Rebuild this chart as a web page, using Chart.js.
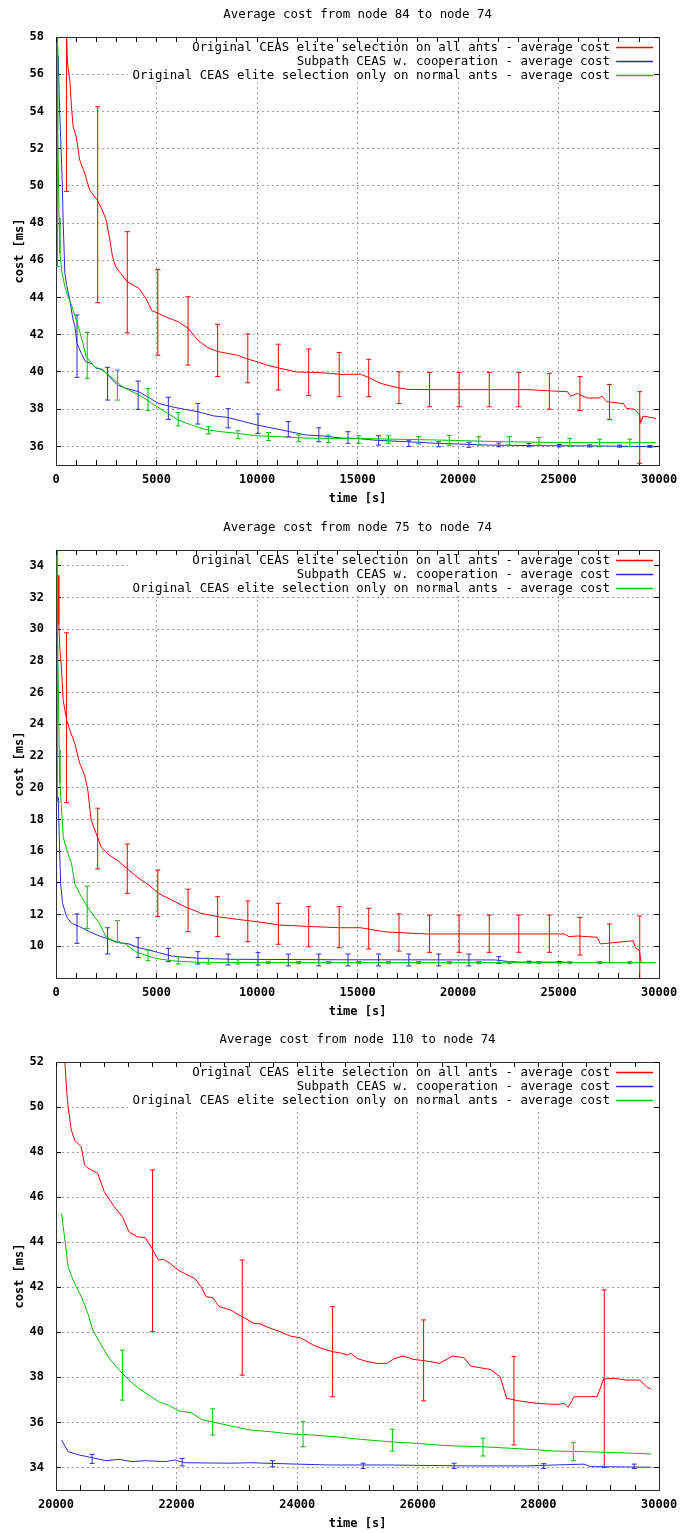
<!DOCTYPE html>
<html>
<head>
<meta charset="utf-8">
<title>Average cost</title>
<script src="https://cdn.jsdelivr.net/npm/chart.js@4.4.1/dist/chart.umd.min.js"></script>
<style>
  html, body { margin: 0; padding: 0; background: #fff; }
  canvas { display: block; }
</style>
</head>
<body>
<canvas id="node84" width="690" height="513"></canvas>
<canvas id="node75" width="690" height="512"></canvas>
<canvas id="node110" width="690" height="508"></canvas>
<script>
const seriesLabels = [
  'Original CEAS elite selection on all ants - average cost',
  'Subpath CEAS w. cooperation - average cost',
  'Original CEAS elite selection only on normal ants - average cost'
];

// node 84 -> 74   [time, cost]
const red84 = [[480, 60.5], [525, 58.2], [573, 56.6], [686, 55.7], [770, 54.25], [848, 53.2], [1015, 52.6], [1176, 51.4], [1422, 50.7], [1667, 49.8], [2074, 49.2], [2300, 48.7], [2484, 48.2], [2647, 47.3], [2810, 46.2], [2974, 45.65], [3137, 45.4], [3546, 44.85], [4118, 44.5], [4444, 44.0], [4771, 43.3], [5098, 43.15], [5588, 42.9], [6078, 42.7], [6569, 42.35], [7059, 41.7], [7549, 41.3], [8039, 41.1], [8529, 41.0], [9020, 40.9], [9510, 40.7], [10000, 40.55], [10490, 40.37], [11140, 40.2], [11960, 40.0], [12780, 39.98], [13590, 39.93], [14167, 39.87], [15147, 39.88], [15637, 39.66], [16127, 39.39], [16946, 39.17], [17516, 39.06], [19000, 39.05], [23480, 39.05], [24460, 38.99], [25440, 38.94], [25600, 38.7], [25930, 38.85], [26420, 38.6], [27000, 38.6], [27160, 38.7], [27400, 38.4], [28220, 38.3], [28380, 38.04], [28790, 37.99], [29030, 37.69], [29070, 37.24], [29200, 37.63], [29850, 37.5]];
const blue84 = [[100, 57.0], [113, 56.9], [162, 54.8], [230, 52.6], [309, 50.3], [358, 48.0], [441, 45.3], [525, 44.7], [686, 43.87], [848, 42.8], [931, 42.5], [1046, 41.54], [1258, 41.0], [1471, 40.55], [1748, 40.46], [1993, 40.2], [2320, 40.14], [2647, 39.75], [3056, 39.3], [3464, 39.12], [4118, 38.94], [4690, 38.58], [5098, 38.31], [5750, 38.13], [6407, 37.99], [7059, 37.86], [7877, 37.63], [8529, 37.56], [9348, 37.33], [10000, 37.15], [10820, 36.97], [11630, 36.79], [12450, 36.61], [13270, 36.56], [14167, 36.45], [14985, 36.43], [15800, 36.34], [17436, 36.25], [19069, 36.16], [21520, 36.07], [23970, 36.04], [27240, 36.02], [29850, 35.98]];
const green84 = [[40, 60], [64, 57.5], [85, 53], [113, 51.2], [150, 48.3], [196, 46.38], [279, 45.48], [441, 44.58], [603, 44.04], [770, 43.6], [1093, 42.5], [1338, 41.54], [1503, 40.82], [1912, 40.28], [2320, 40.1], [2810, 39.66], [3301, 39.21], [3791, 38.94], [4281, 38.67], [4771, 38.31], [5425, 37.86], [6078, 37.42], [6730, 37.15], [7387, 36.92], [8200, 36.79], [9020, 36.7], [10000, 36.57], [11140, 36.52], [12290, 36.45], [13590, 36.43], [15800, 36.41], [19069, 36.34], [22338, 36.25], [25600, 36.2], [29850, 36.2]];
// error bars   [time, low, high]
const redBars84 = [[525, 49.7, 72], [2074, 43.72, 54.25], [3545, 42.1, 47.54], [5065, 40.9, 45.5], [6569, 40.37, 44.04], [8039, 39.75, 42.56], [9540, 39.42, 42.04], [11060, 39.03, 41.49], [12570, 38.73, 41.23], [14085, 38.67, 41.05], [15555, 38.67, 40.68], [17060, 38.3, 40.01], [18580, 38.13, 39.98], [20050, 38.13, 39.98], [21550, 38.13, 39.98], [23020, 38.13, 39.98], [24540, 38.0, 39.93], [26060, 37.92, 39.75], [27530, 37.45, 39.33], [29035, 35.09, 38.94]];
const blueBars84 = [[1046, 39.71, 43.06], [2565, 38.49, 40.25], [4085, 37.99, 39.51], [5588, 37.45, 38.64], [7059, 37.2, 38.31], [8563, 37.0, 38.03], [10049, 36.7, 37.74], [11554, 36.52, 37.33], [13073, 36.25, 37.0], [14525, 36.17, 36.79], [16045, 36.07, 36.57], [17549, 36.0, 36.3], [19035, 35.98, 36.25], [20539, 35.95, 36.22], [22025, 35.98, 36.18], [23529, 35.98, 36.15], [25033, 35.97, 36.1], [26540, 35.97, 36.08], [28040, 35.96, 36.07], [29540, 35.95, 36.05]];
const greenBars84 = [[80, 45.66, 70], [1553, 39.66, 42.13], [3056, 38.49, 40.1], [4575, 37.92, 39.1], [6078, 37.1, 37.81], [7582, 36.67, 37.06], [9053, 36.43, 36.84], [10572, 36.31, 36.74], [12075, 36.25, 36.61], [13545, 36.2, 36.61], [15064, 36.17, 36.57], [16535, 36.17, 36.57], [18039, 36.13, 36.52], [19559, 36.07, 36.59], [21029, 36.07, 36.52], [22549, 36.07, 36.52], [24020, 36.07, 36.48], [25554, 36.02, 36.43], [27044, 35.98, 36.39], [28544, 35.98, 36.39]];

// node 75 -> 74
const red75 = [[120, 33.4], [140, 30.3], [196, 28.7], [279, 27.43], [358, 25.54], [525, 24.28], [686, 23.65], [931, 22.81], [1176, 21.55], [1422, 20.81], [1583, 19.86], [1748, 17.97], [1993, 17.13], [2240, 16.28], [2647, 15.76], [3137, 15.34], [3627, 14.81], [4118, 14.29], [4608, 13.87], [5098, 13.34], [5750, 12.92], [6407, 12.5], [7221, 12.08], [8039, 11.87], [9020, 11.7], [10000, 11.55], [11140, 11.34], [12780, 11.24], [14167, 11.17], [15147, 11.17], [15637, 11.07], [16290, 10.92], [17108, 10.86], [18416, 10.78], [25280, 10.78], [25522, 10.61], [25931, 10.65], [26912, 10.57], [27075, 10.15], [28220, 10.29], [28708, 10.35], [28840, 9.87], [29004, 9.77], [29118, 8.93]];
const blue75 = [[100, 19.4], [113, 19.23], [162, 16.92], [230, 13.97], [328, 12.71], [525, 11.87], [770, 11.45], [1176, 11.24], [1667, 10.92], [2157, 10.65], [2647, 10.44], [3137, 10.23], [3627, 10.15], [4118, 9.91], [4608, 9.77], [5098, 9.6], [5750, 9.39], [6407, 9.31], [7059, 9.25], [8692, 9.18], [14167, 9.15], [21848, 9.14], [22500, 9.04], [23150, 9.0], [25400, 9.0]];
const green75 = [[40, 36], [70, 30], [113, 26.59], [162, 22.38], [196, 20.28], [279, 18.6], [358, 16.92], [525, 16.08], [770, 15.24], [931, 13.97], [1258, 13.13], [1667, 12.29], [2157, 11.45], [2483, 10.61], [2892, 10.29], [3464, 10.15], [3954, 9.66], [4444, 9.45], [4935, 9.24], [5750, 9.09], [7059, 8.99], [10000, 8.97], [20000, 8.97], [29850, 8.97]];
const redBars75 = [[525, 19.06, 29.78], [2074, 14.88, 18.71], [3545, 13.34, 16.44], [5065, 11.87, 14.81], [6569, 10.92, 13.6], [8039, 10.61, 13.13], [9540, 10.29, 12.86], [11060, 10.13, 12.71], [12570, 9.97, 12.5], [14085, 9.91, 12.5], [15555, 9.83, 12.4], [17060, 9.7, 12.04], [18580, 9.62, 11.97], [20050, 9.62, 11.97], [21550, 9.62, 11.97], [23020, 9.62, 11.97], [24540, 9.62, 11.97], [26060, 9.45, 11.83], [27530, 8.97, 11.41], [29035, 6.0, 11.91]];
const blueBars75 = [[1046, 10.19, 12.04], [2565, 9.51, 11.17], [4085, 9.3, 10.54], [5588, 9.03, 9.87], [7059, 8.88, 9.66], [8563, 8.82, 9.51], [10049, 8.82, 9.6], [11554, 8.76, 9.51], [13073, 8.76, 9.51], [14525, 8.76, 9.51], [16045, 8.76, 9.51], [17549, 8.76, 9.51], [19035, 8.76, 9.51], [20539, 8.76, 9.51], [22025, 8.93, 9.35], [23529, 8.95, 9.06], [25033, 8.95, 9.04]];
const greenBars75 = [[80, 19.1, 40], [1553, 11.13, 13.8], [3056, 10.29, 11.62], [4575, 9.09, 9.77], [6078, 8.88, 9.34], [7582, 8.88, 9.25], [9053, 8.88, 9.15], [10572, 8.9, 9.05], [12075, 8.9, 9.04], [13545, 8.9, 9.04], [15064, 8.9, 9.04], [16535, 8.9, 9.04], [18039, 8.9, 9.04], [19559, 8.9, 9.04], [21029, 8.9, 9.04], [22549, 8.9, 9.04], [24020, 8.9, 9.04], [25554, 8.9, 9.04], [27044, 8.9, 9.04], [28544, 8.9, 9.04]];

// node 110 -> 74
const red110 = [[20147, 52.0], [20180, 50.6], [20200, 50.04], [20252, 49.0], [20310, 48.53], [20417, 48.24], [20474, 47.43], [20512, 47.32], [20691, 47.06], [20801, 46.24], [20964, 45.58], [21100, 45.13], [21209, 44.47], [21345, 44.24], [21482, 44.2], [21590, 43.73], [21699, 43.21], [21781, 43.24], [21890, 43.06], [22026, 42.76], [22135, 42.61], [22299, 42.39], [22407, 42.02], [22489, 41.58], [22598, 41.54], [22707, 41.14], [22897, 40.99], [23088, 40.69], [23279, 40.4], [23388, 40.37], [23551, 40.18], [23714, 40.03], [23878, 39.84], [24069, 39.74], [24260, 39.44], [24395, 39.29], [24586, 39.14], [24722, 39.08], [24831, 38.99], [24886, 39.07], [24995, 38.84], [25158, 38.7], [25322, 38.62], [25485, 38.62], [25594, 38.81], [25757, 38.95], [25921, 38.8], [26139, 38.73], [26356, 38.62], [26574, 38.95], [26765, 38.87], [26874, 38.5], [27201, 38.35], [27364, 38.03], [27472, 37.07], [27663, 36.96], [27990, 36.84], [28317, 36.8], [28425, 36.84], [28492, 36.67], [28590, 37.14], [28971, 37.14], [29080, 37.93], [29243, 37.96], [29461, 37.88], [29678, 37.88], [29788, 37.59], [29869, 37.47]];
const blue110 = [[20093, 35.22], [20201, 34.7], [20392, 34.55], [20610, 34.43], [20828, 34.3], [21046, 34.36], [21263, 34.26], [21482, 34.3], [21808, 34.26], [21972, 34.33], [22135, 34.21], [22897, 34.19], [23224, 34.21], [23987, 34.15], [24531, 34.11], [25500, 34.11], [26765, 34.07], [27800, 34.07], [28752, 34.15], [28860, 34.04], [29869, 34.01]];
const green110 = [[20093, 45.28], [20120, 44.69], [20201, 42.91], [20283, 42.32], [20419, 41.58], [20528, 40.84], [20610, 40.1], [20719, 39.58], [20882, 38.84], [21046, 38.33], [21209, 37.88], [21373, 37.51], [21536, 37.22], [21699, 36.92], [21863, 36.77], [22026, 36.52], [22244, 36.43], [22407, 36.14], [22570, 36.03], [22789, 35.91], [22952, 35.81], [23224, 35.66], [23551, 35.59], [23878, 35.49], [24259, 35.44], [24722, 35.34], [25049, 35.25], [25539, 35.14], [25975, 35.07], [26465, 34.97], [27064, 34.92], [27554, 34.85], [27990, 34.78], [28262, 34.73], [28752, 34.7], [29297, 34.66], [29869, 34.6]];
const redBars110 = [[21601, 40.03, 47.21], [23088, 38.1, 43.21], [24586, 37.14, 41.14], [26095, 36.96, 40.55], [27593, 35.0, 38.92], [29090, 34.0, 41.88]];
const blueBars110 = [[20599, 34.18, 34.58], [22092, 34.07, 34.4], [23590, 34.03, 34.3], [25093, 33.96, 34.19], [26601, 33.96, 34.19], [28088, 33.96, 34.17], [29587, 33.95, 34.15]];
const greenBars110 = [[21100, 36.99, 39.21], [22598, 35.44, 36.6], [24096, 34.92, 36.03], [25577, 34.73, 35.7], [27080, 34.51, 35.3], [28578, 34.3, 35.1]];

// tick labels
const timeLabelsFull = [0, 5000, 10000, 15000, 20000, 25000, 30000];
const timeLabelsLate = [20000, 22000, 24000, 26000, 28000, 30000];
const costTicks84 = [36, 38, 40, 42, 44, 46, 48, 50, 52, 54, 56, 58];
const costTicks75 = [10, 12, 14, 16, 18, 20, 22, 24, 26, 28, 30, 32, 34];
const costTicks110 = [34, 36, 38, 40, 42, 44, 46, 48, 50, 52];

const RED = '#ff0000';
const BLUE = '#2a2ad4';
const GREEN = '#00c000';
const GRID = '#a0a0a0';
const AXIS = '#303030';
const MONO = "'DejaVu Sans Mono', 'Liberation Mono', monospace";
const TICK_FONT = { family: MONO, size: 12, weight: 'bold' };
const TEXT_FONT = { family: MONO, size: 12.4, weight: 'normal', lineHeight: 1.2 };

Chart.defaults.font.family = MONO;

function lineSet(label, pts, color, order) {
  return {
    label: label,
    data: pts.map(p => ({ x: p[0], y: p[1] })),
    borderColor: color,
    backgroundColor: color,
    borderWidth: 1,
    pointRadius: 0,
    tension: 0,
    fill: false,
    clip: 0,
    order: order,
    xAxisID: 'x',
    yAxisID: 'y'
  };
}

// each bar = two points and a gap, caps drawn as 'line' point style
function barSet(label, bars, color, order) {
  return {
    label: label + ' (error)',
    data: bars.flatMap(b => [{ x: b[0], y: b[1] }, { x: b[0], y: b[2] }, { x: b[0], y: null }]),
    borderColor: color,
    backgroundColor: color,
    borderWidth: 1,
    pointStyle: 'line',
    pointRadius: 2.5,
    pointBorderWidth: 1,
    pointBorderColor: color,
    spanGaps: false,
    fill: false,
    clip: 0,
    order: order,
    xAxisID: 'x',
    yAxisID: 'y'
  };
}

// gnuplot style key: top right inside the plot, on a white box
const keyBox = {
  id: 'keyBox',
  beforeDraw(chart) {
    const L = chart.legend, ca = chart.chartArea;
    const pad = L.options.labels.padding;
    L.left = ca.right - 6 + pad - L.width;
    L.right = L.left + L.width;
    L.top = ca.top + 2.7;
    L.bottom = ca.bottom;
  },
  beforeDatasetsDraw(chart) {
    const ctx = chart.ctx, ca = chart.chartArea;
    ctx.save();
    ctx.fillStyle = '#ffffff';
    ctx.fillRect(128, ca.top + 1, ca.right - 1 - 128, 45);
    ctx.restore();
    chart.legend.draw();
  }
};

function keyLabels(chart) {
  const items = Chart.defaults.plugins.legend.labels.generateLabels(chart);
  return items.map(item => Object.assign(item, {
    fillStyle: item.strokeStyle,
    lineWidth: 0
  }));
}

function makeChart(id, cfg) {
  const canvas = document.getElementById(id);
  const H = canvas.height;
  const isLabel = v => cfg.timeLabels.includes(v);

  return new Chart(canvas.getContext('2d'), {
    type: 'line',
    data: {
      datasets: [
        lineSet(seriesLabels[0], cfg.red, RED, 5),
        lineSet(seriesLabels[1], cfg.blue, BLUE, 3),
        lineSet(seriesLabels[2], cfg.green, GREEN, 1),
        barSet(seriesLabels[0], cfg.redBars, RED, 6),
        barSet(seriesLabels[1], cfg.blueBars, BLUE, 4),
        barSet(seriesLabels[2], cfg.greenBars, GREEN, 2)
      ]
    },
    options: {
      responsive: false,
      animation: false,
      events: [],
      layout: { padding: { left: 0, right: 22, top: 0, bottom: 0 } },
      scales: {
        x: {
          type: 'linear',
          position: 'bottom',
          min: cfg.xMin,
          max: cfg.xMax,
          ticks: {
            stepSize: cfg.minorStep,
            autoSkip: false,
            maxRotation: 0,
            minRotation: 0,
            padding: 12.8,
            color: '#000',
            font: TICK_FONT,
            callback: v => isLabel(v) ? String(v) : ''
          },
          grid: {
            color: c => (c.tick && isLabel(c.tick.value)) ? GRID : 'rgba(0,0,0,0)',
            lineWidth: 1,
            tickColor: '#000',
            tickWidth: 1,
            tickLength: -5,
            tickBorderDash: []
          },
          border: { color: AXIS, width: 1, dash: [2, 3] },
          title: {
            display: true,
            text: 'time [s]',
            color: '#000',
            font: TICK_FONT,
            padding: { top: 0, bottom: H - 7.2 - 499 }
          },
          afterFit: s => { s.height = H - 465; }
        },
        y: {
          type: 'linear',
          position: 'left',
          min: cfg.yMin,
          max: cfg.yMax,
          afterBuildTicks: s => { s.ticks = cfg.costTicks.map(v => ({ value: v })); },
          ticks: {
            padding: 17,
            color: '#000',
            font: TICK_FONT,
            callback: v => String(v)
          },
          grid: {
            color: GRID,
            lineWidth: 1,
            tickColor: '#000',
            tickWidth: 1,
            tickLength: -5,
            tickBorderDash: []
          },
          border: { color: AXIS, width: 1, dash: [2, 3] },
          title: {
            display: true,
            text: 'cost [ms]',
            color: '#000',
            font: TICK_FONT,
            padding: { top: 12.8, bottom: 0 }
          },
          afterFit: s => { s.width = 56; }
        },
        x2: {
          type: 'linear',
          position: 'top',
          min: cfg.xMin,
          max: cfg.xMax,
          ticks: { display: false, stepSize: cfg.minorStep, autoSkip: false },
          grid: { drawOnChartArea: false, tickColor: '#000', tickWidth: 1, tickLength: -5, z: 1 },
          border: { color: AXIS, width: 1, z: 1 },
          afterFit: s => { s.height = 0; }
        },
        y2: {
          type: 'linear',
          position: 'right',
          min: cfg.yMin,
          max: cfg.yMax,
          afterBuildTicks: s => { s.ticks = cfg.costTicks.map(v => ({ value: v })); },
          ticks: { display: false },
          grid: { drawOnChartArea: false, tickColor: '#000', tickWidth: 1, tickLength: -5, z: 1 },
          border: { color: AXIS, width: 1, z: 1 },
          afterFit: s => { s.width = 0; }
        }
      },
      plugins: {
        title: {
          display: true,
          text: cfg.title,
          fullSize: false,
          color: '#000',
          font: TEXT_FONT,
          padding: { top: 7.56, bottom: 14.56 }
        },
        legend: {
          position: 'chartArea',
          align: 'start',
          rtl: true,
          textDirection: 'ltr',
          labels: {
            boxWidth: 37,
            boxHeight: 1.4,
            padding: 1.6,
            color: '#000',
            font: TEXT_FONT,
            generateLabels: keyLabels,
            filter: item => item.datasetIndex < 3,
            sort: (a, b) => a.datasetIndex - b.datasetIndex
          }
        },
        tooltip: { enabled: false }
      }
    },
    plugins: [keyBox]
  });
}

makeChart('node84', {
  title: 'Average cost from node 84 to node 74',
  red: red84, blue: blue84, green: green84,
  redBars: redBars84, blueBars: blueBars84, greenBars: greenBars84,
  xMin: 0, xMax: 30000, minorStep: 1000, timeLabels: timeLabelsFull,
  yMin: 35, yMax: 58, costTicks: costTicks84
});

makeChart('node75', {
  title: 'Average cost from node 75 to node 74',
  red: red75, blue: blue75, green: green75,
  redBars: redBars75, blueBars: blueBars75, greenBars: greenBars75,
  xMin: 0, xMax: 30000, minorStep: 1000, timeLabels: timeLabelsFull,
  yMin: 8, yMax: 35, costTicks: costTicks75
});

makeChart('node110', {
  title: 'Average cost from node 110 to node 74',
  red: red110, blue: blue110, green: green110,
  redBars: redBars110, blueBars: blueBars110, greenBars: greenBars110,
  xMin: 20000, xMax: 30000, minorStep: 400, timeLabels: timeLabelsLate,
  yMin: 33, yMax: 52, costTicks: costTicks110
});
</script>
</body>
</html>
